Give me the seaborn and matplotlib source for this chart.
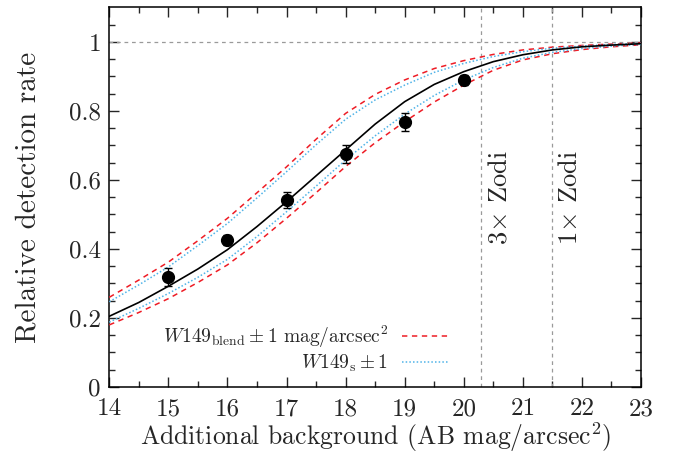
import numpy as np
import pandas as pd
import matplotlib
matplotlib.use("Agg")
import matplotlib.pyplot as plt
import seaborn as sns

# ---- data ----
bg = [14, 14.5, 15, 15.5, 16, 16.5, 17, 17.5, 18, 18.5, 19, 19.5, 20, 20.5, 21, 21.5, 22, 22.5, 23]
model = [0.205, 0.245, 0.292, 0.342, 0.398, 0.465, 0.537, 0.612, 0.687, 0.762, 0.827, 0.877,
         0.914, 0.943, 0.963, 0.977, 0.986, 0.991, 0.995]
blend_hi = [0.260, 0.310, 0.362, 0.424, 0.489, 0.563, 0.638, 0.718, 0.793, 0.848, 0.890, 0.923,
            0.946, 0.964, 0.977, 0.985, 0.990, 0.994, 0.997]
blend_lo = [0.180, 0.216, 0.256, 0.303, 0.354, 0.418, 0.489, 0.563, 0.639, 0.708, 0.769, 0.826,
            0.875, 0.918, 0.948, 0.966, 0.978, 0.986, 0.992]
src_hi = [0.247, 0.296, 0.348, 0.410, 0.474, 0.548, 0.624, 0.702, 0.776, 0.832, 0.875, 0.912,
          0.938, 0.958, 0.972, 0.982, 0.988, 0.993, 0.996]
src_lo = [0.188, 0.228, 0.271, 0.318, 0.370, 0.436, 0.508, 0.582, 0.658, 0.728, 0.791, 0.845,
          0.890, 0.926, 0.953, 0.970, 0.981, 0.988, 0.993]

pts_x = [15, 16, 17, 18, 19, 20]
pts_y = [0.319, 0.426, 0.542, 0.675, 0.768, 0.890]
pts_err = [0.026, 0.015, 0.024, 0.025, 0.026, 0.015]

zodi_x = [20.3, 21.5]
zodi_labels = [r"3$\times$ Zodi", r"1$\times$ Zodi"]

xticks = [14, 15, 16, 17, 18, 19, 20, 21, 22, 23]
yticks = [0, 0.2, 0.4, 0.6, 0.8, 1.0]
ytick_labels = ["0", "0.2", "0.4", "0.6", "0.8", "1"]

# ---- style ----
sns.set_style("ticks")
plt.rcParams["font.family"] = ["cmr10", "DejaVu Serif"]
plt.rcParams["mathtext.fontset"] = "cm"
plt.rcParams["axes.formatter.use_mathtext"] = True

red = "#ee1c25"
blue = "#4fb3e8"
grey = "#9a9a9a"

fig = plt.figure(figsize=(6.83, 4.54), dpi=100)
ax = fig.add_axes([0.160, 0.1476, 0.7785, 0.8359])

df = pd.DataFrame({"bg": bg, "model": model, "bhi": blend_hi, "blo": blend_lo,
                   "shi": src_hi, "slo": src_lo})

# reference lines
ax.axhline(1.0, color=grey, lw=0.9, ls=(0, (3, 3)), zorder=1)
for zx in zodi_x:
    ax.axvline(zx, color=grey, lw=0.9, ls=(0, (3, 3)), zorder=1)

sns.lineplot(data=df, x="bg", y="bhi", ax=ax, color=red, lw=1.1, linestyle=(0, (3.5, 3)), zorder=3)
sns.lineplot(data=df, x="bg", y="blo", ax=ax, color=red, lw=1.1, linestyle=(0, (3.5, 3)), zorder=3)
sns.lineplot(data=df, x="bg", y="shi", ax=ax, color=blue, lw=1.1, linestyle=(0, (1, 1.4)), zorder=3)
sns.lineplot(data=df, x="bg", y="slo", ax=ax, color=blue, lw=1.1, linestyle=(0, (1, 1.4)), zorder=3)
sns.lineplot(data=df, x="bg", y="model", ax=ax, color="black", lw=1.2, zorder=4)

ax.errorbar(pts_x, pts_y, yerr=pts_err, fmt="o", color="black", ms=8.5,
            capsize=3, elinewidth=1.0, capthick=1.0, zorder=5)

for zx, lab in zip(zodi_x, zodi_labels):
    ax.text(zx + 0.30, 0.55, lab, rotation=90, ha="center", va="center", fontsize=19)

# legend (text first, handle after)
h1, = ax.plot([], [], color=red, lw=1.1, linestyle=(0, (3.5, 3)))
h2, = ax.plot([], [], color=blue, lw=1.1, linestyle=(0, (1, 1.4)))
leg = ax.legend([h1, h2],
                [r"$W149_{\rm blend} \pm 1$ mag/arcsec$^2$", r"$W149_{\rm s} \pm 1$"],
                markerfirst=False, frameon=False, fontsize=14,
                loc="upper right", bbox_to_anchor=(0.638, 0.166),
                handlelength=2.4, handletextpad=0.7, labelspacing=0.15,
                borderaxespad=0, borderpad=0)

ax.set_xlim(14, 23)
ax.set_ylim(0, 1.1)
ax.set_xticks(xticks)
ax.set_xticklabels([str(t) for t in xticks])
ax.set_yticks(yticks)
ax.set_yticklabels(ytick_labels)
ax.set_xticks(np.arange(14.5, 23, 1.0), minor=True)
ax.set_yticks(np.arange(0.05, 1.1, 0.05), minor=True)
ax.tick_params(which="both", direction="in", top=True, right=True, labelsize=18, width=1.0)
ax.tick_params(which="major", length=7)
ax.tick_params(axis="x", which="major", pad=8)
ax.tick_params(axis="y", which="major", pad=6)
ax.tick_params(which="minor", length=4)
for s in ax.spines.values():
    s.set_linewidth(1.1)
    s.set_color("black")

ax.set_xlabel(r"Additional background (AB mag/arcsec$^2$)", fontsize=18.5, labelpad=0)
ax.set_ylabel("Relative detection rate", fontsize=21, labelpad=20)

fig.savefig("out.png", dpi=100)
